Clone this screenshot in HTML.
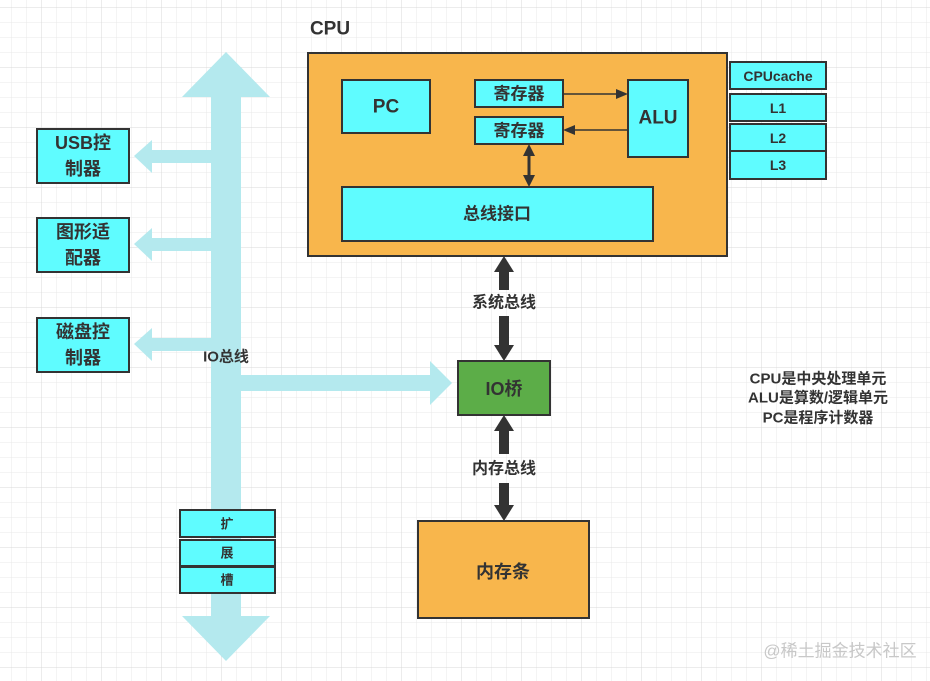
<!DOCTYPE html>
<html><head><meta charset="utf-8"><style>
html,body{margin:0;padding:0;width:930px;height:681px;overflow:hidden;background:#fff}
svg{display:block}
text{font-family:"Liberation Sans","Noto Sans CJK SC",sans-serif;font-weight:bold;fill:#333;text-anchor:middle;dominant-baseline:central}
</style></head><body>
<svg width="930" height="681" viewBox="0 0 930 681" xmlns="http://www.w3.org/2000/svg">
<defs>
<pattern id="g" x="11" y="7" width="15" height="15" patternUnits="userSpaceOnUse">
<path d="M0 0V15M0 0H15" stroke="#e8e8e8" stroke-width="1" fill="none"/></pattern>
<pattern id="G" x="41" y="67" width="60" height="60" patternUnits="userSpaceOnUse">
<path d="M0 0V60M0 0H60" stroke="#d8d8d8" stroke-width="1" fill="none"/></pattern>
</defs>
<rect width="930" height="681" fill="url(#g)"/>
<rect width="930" height="681" fill="url(#G)"/>

<g fill="#b4e9ee">
<polygon points="226,52 270,97 241,97 241,616 270,616 226,661 182,616 211,616 211,97 182,97"/>
<polygon points="211,150 152,150 152,140 134,156 152,173 152,163 211,163"/>
<polygon points="211,238 152,238 152,228 134,244 152,261 152,251 211,251"/>
<polygon points="211,338 152,338 152,328 134,344 152,361 152,351 211,351"/>
<polygon points="241,375 430,375 430,361 452,383 430,405 430,391 241,391"/>
</g>
<text x="226" y="357" font-size="15">IO总线</text>

<g stroke="#333" stroke-width="2">
<rect x="37" y="129" width="92" height="54" fill="#5ffcff"/>
<rect x="37" y="218" width="92" height="54" fill="#5ffcff"/>
<rect x="37" y="318" width="92" height="54" fill="#5ffcff"/>
<rect x="180" y="510" width="95" height="27" fill="#5ffcff"/>
<rect x="180" y="540" width="95" height="26" fill="#5ffcff"/>
<rect x="180" y="567" width="95" height="26" fill="#5ffcff"/>
</g>
<text x="83" y="143" font-size="18">USB控</text><text x="83" y="169" font-size="18">制器</text>
<text x="83" y="232" font-size="18">图形适</text><text x="83" y="258" font-size="18">配器</text>
<text x="83" y="332" font-size="18">磁盘控</text><text x="83" y="358" font-size="18">制器</text>
<text x="227" y="524" font-size="13">扩</text>
<text x="227" y="553" font-size="13">展</text>
<text x="227" y="580" font-size="13">槽</text>

<text x="330" y="29" font-size="19">CPU</text>
<g stroke="#333" stroke-width="2">
<rect x="308" y="53" width="419" height="203" fill="#f8b64c"/>
<rect x="342" y="80" width="88" height="53" fill="#5ffcff"/>
<rect x="475" y="80" width="88" height="27" fill="#5ffcff"/>
<rect x="475" y="117" width="88" height="27" fill="#5ffcff"/>
<rect x="628" y="80" width="60" height="77" fill="#5ffcff"/>
<rect x="342" y="187" width="311" height="54" fill="#5ffcff"/>
<rect x="730" y="62" width="96" height="27" fill="#5ffcff"/>
<rect x="730" y="94" width="96" height="27" fill="#5ffcff"/>
<rect x="730" y="124" width="96" height="27" fill="#5ffcff"/>
<rect x="730" y="151" width="96" height="28" fill="#5ffcff"/>
</g>
<text x="386" y="107" font-size="19">PC</text>
<text x="519" y="94" font-size="17">寄存器</text>
<text x="519" y="131" font-size="17">寄存器</text>
<text x="658" y="118" font-size="19">ALU</text>
<text x="497" y="214" font-size="17">总线接口</text>
<text x="778" y="76" font-size="14">CPUcache</text>
<text x="778" y="108" font-size="14">L1</text>
<text x="778" y="138" font-size="14">L2</text>
<text x="778" y="165" font-size="14">L3</text>

<g stroke="#333" stroke-width="1.5" fill="#333">
<line x1="563" y1="94" x2="618" y2="94"/><polygon points="628,94 616,89 616,99" stroke="none"/>
<line x1="573" y1="130" x2="628" y2="130"/><polygon points="563,130 575,125 575,135" stroke="none"/>
<line x1="529" y1="152" x2="529" y2="178" stroke-width="3"/>
<polygon points="529,144 523,156 535,156" stroke="none"/><polygon points="529,187 523,175 535,175" stroke="none"/>
</g>

<g fill="#333">
<rect x="499" y="270" width="10" height="20"/><rect x="499" y="316" width="10" height="30"/>
<polygon points="504,256 494,272 514,272"/><polygon points="504,361 494,345 514,345"/>
<rect x="499" y="429" width="10" height="25"/><rect x="499" y="483" width="10" height="24"/>
<polygon points="504,415 494,431 514,431"/><polygon points="504,521 494,505 514,505"/>
</g>
<text x="504" y="303" font-size="16">系统总线</text>
<text x="504" y="469" font-size="16">内存总线</text>

<rect x="458" y="361" width="92" height="54" fill="#5cad48" stroke="#333" stroke-width="2"/>
<text x="504" y="389" font-size="18">IO桥</text>
<rect x="418" y="521" width="171" height="97" fill="#f8b64c" stroke="#333" stroke-width="2"/>
<text x="503" y="572" font-size="18">内存条</text>

<text x="818" y="379" font-size="15">CPU是中央处理单元</text>
<text x="818" y="398" font-size="15">ALU是算数/逻辑单元</text>
<text x="818" y="418" font-size="15">PC是程序计数器</text>
<text x="840" y="651" font-size="17" style="fill:#c8c8c8;font-weight:normal">@稀土掘金技术社区</text>
</svg>
</body></html>
